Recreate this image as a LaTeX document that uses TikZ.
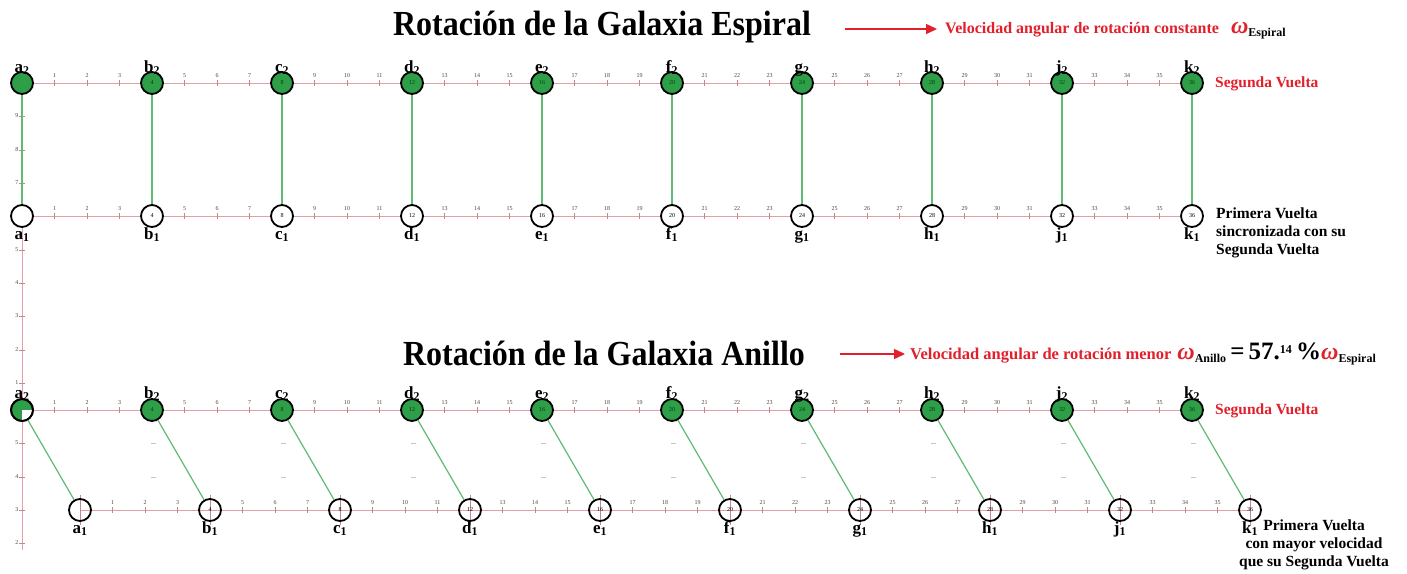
\documentclass[tikz,border=0pt]{standalone}
\usepackage{fontspec}
\setmainfont{Liberation Serif}
\usetikzlibrary{arrows.meta}
\definecolor{myred}{RGB}{226,32,44}
\definecolor{axispink}{RGB}{228,160,168}
\definecolor{nodegreen}{RGB}{46,158,72}
\definecolor{linkgreen}{RGB}{96,186,116}
\definecolor{tickgray}{RGB}{70,70,70}
\begin{document}
\begin{tikzpicture}[x=1pt,y=-1pt,
  axisline/.style={axispink, line width=0.8pt},
  tickmark/.style={axispink!85!black, line width=0.5pt},
  ticklbl/.style={font=\fontsize{6}{6}\selectfont, text=tickgray, inner sep=0.5pt},
  ringnode/.style={circle, draw=black, line width=1.8pt, minimum size=22pt, inner sep=0pt, font=\fontsize{6}{6}\selectfont},
  greennode/.style={ringnode, fill=nodegreen, text=green!25!black},
  whitenode/.style={ringnode, fill=white},
  opennode/.style={ringnode},
  link/.style={linkgreen, line width=1.2pt},
  ptlbl/.style={font=\fontsize{17}{17}\selectfont\bfseries, inner sep=0pt, anchor=base},
  titletext/.style={font=\fontsize{32}{32}\selectfont\bfseries, inner sep=0pt, yscale=1.1},
  redarrow/.style={myred, line width=1.5pt, -{Triangle[length=11pt,width=10pt]}},
  rlabel/.style={font=\fontsize{15.5}{18}\selectfont\bfseries, inner sep=0pt},
  faint/.style={gray!45, line width=0.5pt}
]
\fill[white] (0,0) rectangle (1407,573);
\useasboundingbox (0,0) rectangle (1407,573);

% vertical axis
\draw[axisline] (22,83) -- (22,550);
\foreach \v/\yy in {9/116,8/150,7/183,5/250,4/283,3/316,2/350,1/383,5/443,4/477,3/510,2/543} {
  \draw[tickmark] (19,\yy) -- (25,\yy);
  \node[ticklbl, anchor=east] at (19,\yy) {\v};
}

% horizontal rows
\draw[axisline] (22,83) -- (1192,83);
\draw[axisline] (22,216) -- (1192,216);
\draw[axisline] (22,410) -- (1192,410);
\draw[axisline] (80,510) -- (1250,510);

% tick marks and labels
\foreach \n in {1,...,35} {
  \pgfmathtruncatemacro\r{mod(\n,4)}
  \ifnum\r>0
    \pgfmathsetmacro\xa{22+32.5*\n}
    \pgfmathsetmacro\xb{80+32.5*\n}
    \foreach \yy in {83,216,410} {
      \draw[tickmark] (\xa,\yy-3) -- (\xa,\yy+3);
      \node[ticklbl] at (\xa,\yy-7) {\n};
    }
    \draw[tickmark] (\xb,507) -- (\xb,513);
    \node[ticklbl] at (\xb,503) {\n};
  \fi
}

% nodes
\foreach \L [count=\i from 0] in {a,b,c,d,e,f,g,h,j,k} {
  \pgfmathsetmacro\xa{22+130*\i}
  \pgfmathsetmacro\xb{80+130*\i}
  \pgfmathtruncatemacro\n{4*\i}
  \ifnum\n=0 \def\lab{}\else\edef\lab{\n}\fi
  % crosshair on lower first-turn nodes
  \draw[tickmark, line width=0.7pt] (\xb,495) -- (\xb,525);
  \ifnum\i>0
    \draw[faint] (\xa-1,443) -- (\xa+4,443);
    \draw[faint] (\xa-1,477) -- (\xa+4,477);
  \fi
  \node[greennode] (u2\L) at (\xa,83) {\lab};
  \node[whitenode] (u1\L) at (\xa,216) {\lab};
  \node[greennode] (l2\L) at (\xa,410) {\lab};
  \node[opennode] (l1\L) at (\xb,510) {\lab};
  \draw[link] (u2\L) -- (u1\L);
  \draw[link] (l2\L) -- (l1\L);
  \node[ptlbl] (u2\L-lbl) at (\xa,72) {\L\textsubscript{2}};
  \node[ptlbl] (u1\L-lbl) at (\xa,239) {\L\textsubscript{1}};
  \node[ptlbl] (l2\L-lbl) at (\xa,398) {\L\textsubscript{2}};
  \node[ptlbl] (l1\L-lbl) at (\xb,533) {\L\textsubscript{1}};
}

% white quarter in lower a2
\begin{scope}
  \clip (22,410) rectangle (35,423);
  \fill[white] (22,410) circle[radius=10pt];
\end{scope}
\draw[black, line width=1.8pt] (22,410) circle[radius=11pt];

% titles
\node[titletext] (title1) at (602,27) {Rotación de la Galaxia Espiral};
\node[titletext] (title2) at (604,353) {Rotación de la Galaxia Anillo};

% arrows and speed texts
\coordinate (ar1s) at (845,29);
\coordinate (ar1e) at (937,29);
\draw[redarrow] (ar1s) -- (ar1e);
\node[anchor=base west, inner sep=0pt] (vel1) at (945,33)
  {\fontsize{16}{16}\selectfont\bfseries\color{myred}Velocidad angular de rotación constante\hspace{12pt}{\fontsize{24}{24}\selectfont\itshape ω}\raisebox{-3pt}{\color{black}\fontsize{12}{12}\selectfont Espiral}};

\coordinate (ar2s) at (840,354);
\coordinate (ar2e) at (905,354);
\draw[redarrow] (ar2s) -- (ar2e);
\node[anchor=base west, inner sep=0pt] (vel2) at (910,359)
  {\fontsize{16.5}{16.5}\selectfont\bfseries\color{myred}Velocidad angular de rotación menor\hspace{6pt}{\fontsize{24}{24}\selectfont\itshape ω}\raisebox{-3pt}{\color{black}\fontsize{12}{12}\selectfont Anillo}{\color{black}\fontsize{25}{25}\selectfont\,=\,57.\raisebox{6pt}{\fontsize{12}{12}\selectfont 14}\,\%}{\fontsize{24}{24}\selectfont\itshape ω}\raisebox{-3pt}{\color{black}\fontsize{12}{12}\selectfont Espiral}};

% right side labels
\node[rlabel, text=myred, anchor=west] (sv1) at (1215,84) {Segunda Vuelta};
\node[rlabel, anchor=north west, align=left] (pv1) at (1216,208) {Primera Vuelta\\sincronizada con su\\Segunda Vuelta};
\node[rlabel, text=myred, anchor=west] (sv2) at (1215,411) {Segunda Vuelta};
\node[rlabel, anchor=north, align=center] (pv2) at (1314,520) {Primera Vuelta\\con mayor velocidad\\que su Segunda Vuelta};
\end{tikzpicture}
\end{document}
